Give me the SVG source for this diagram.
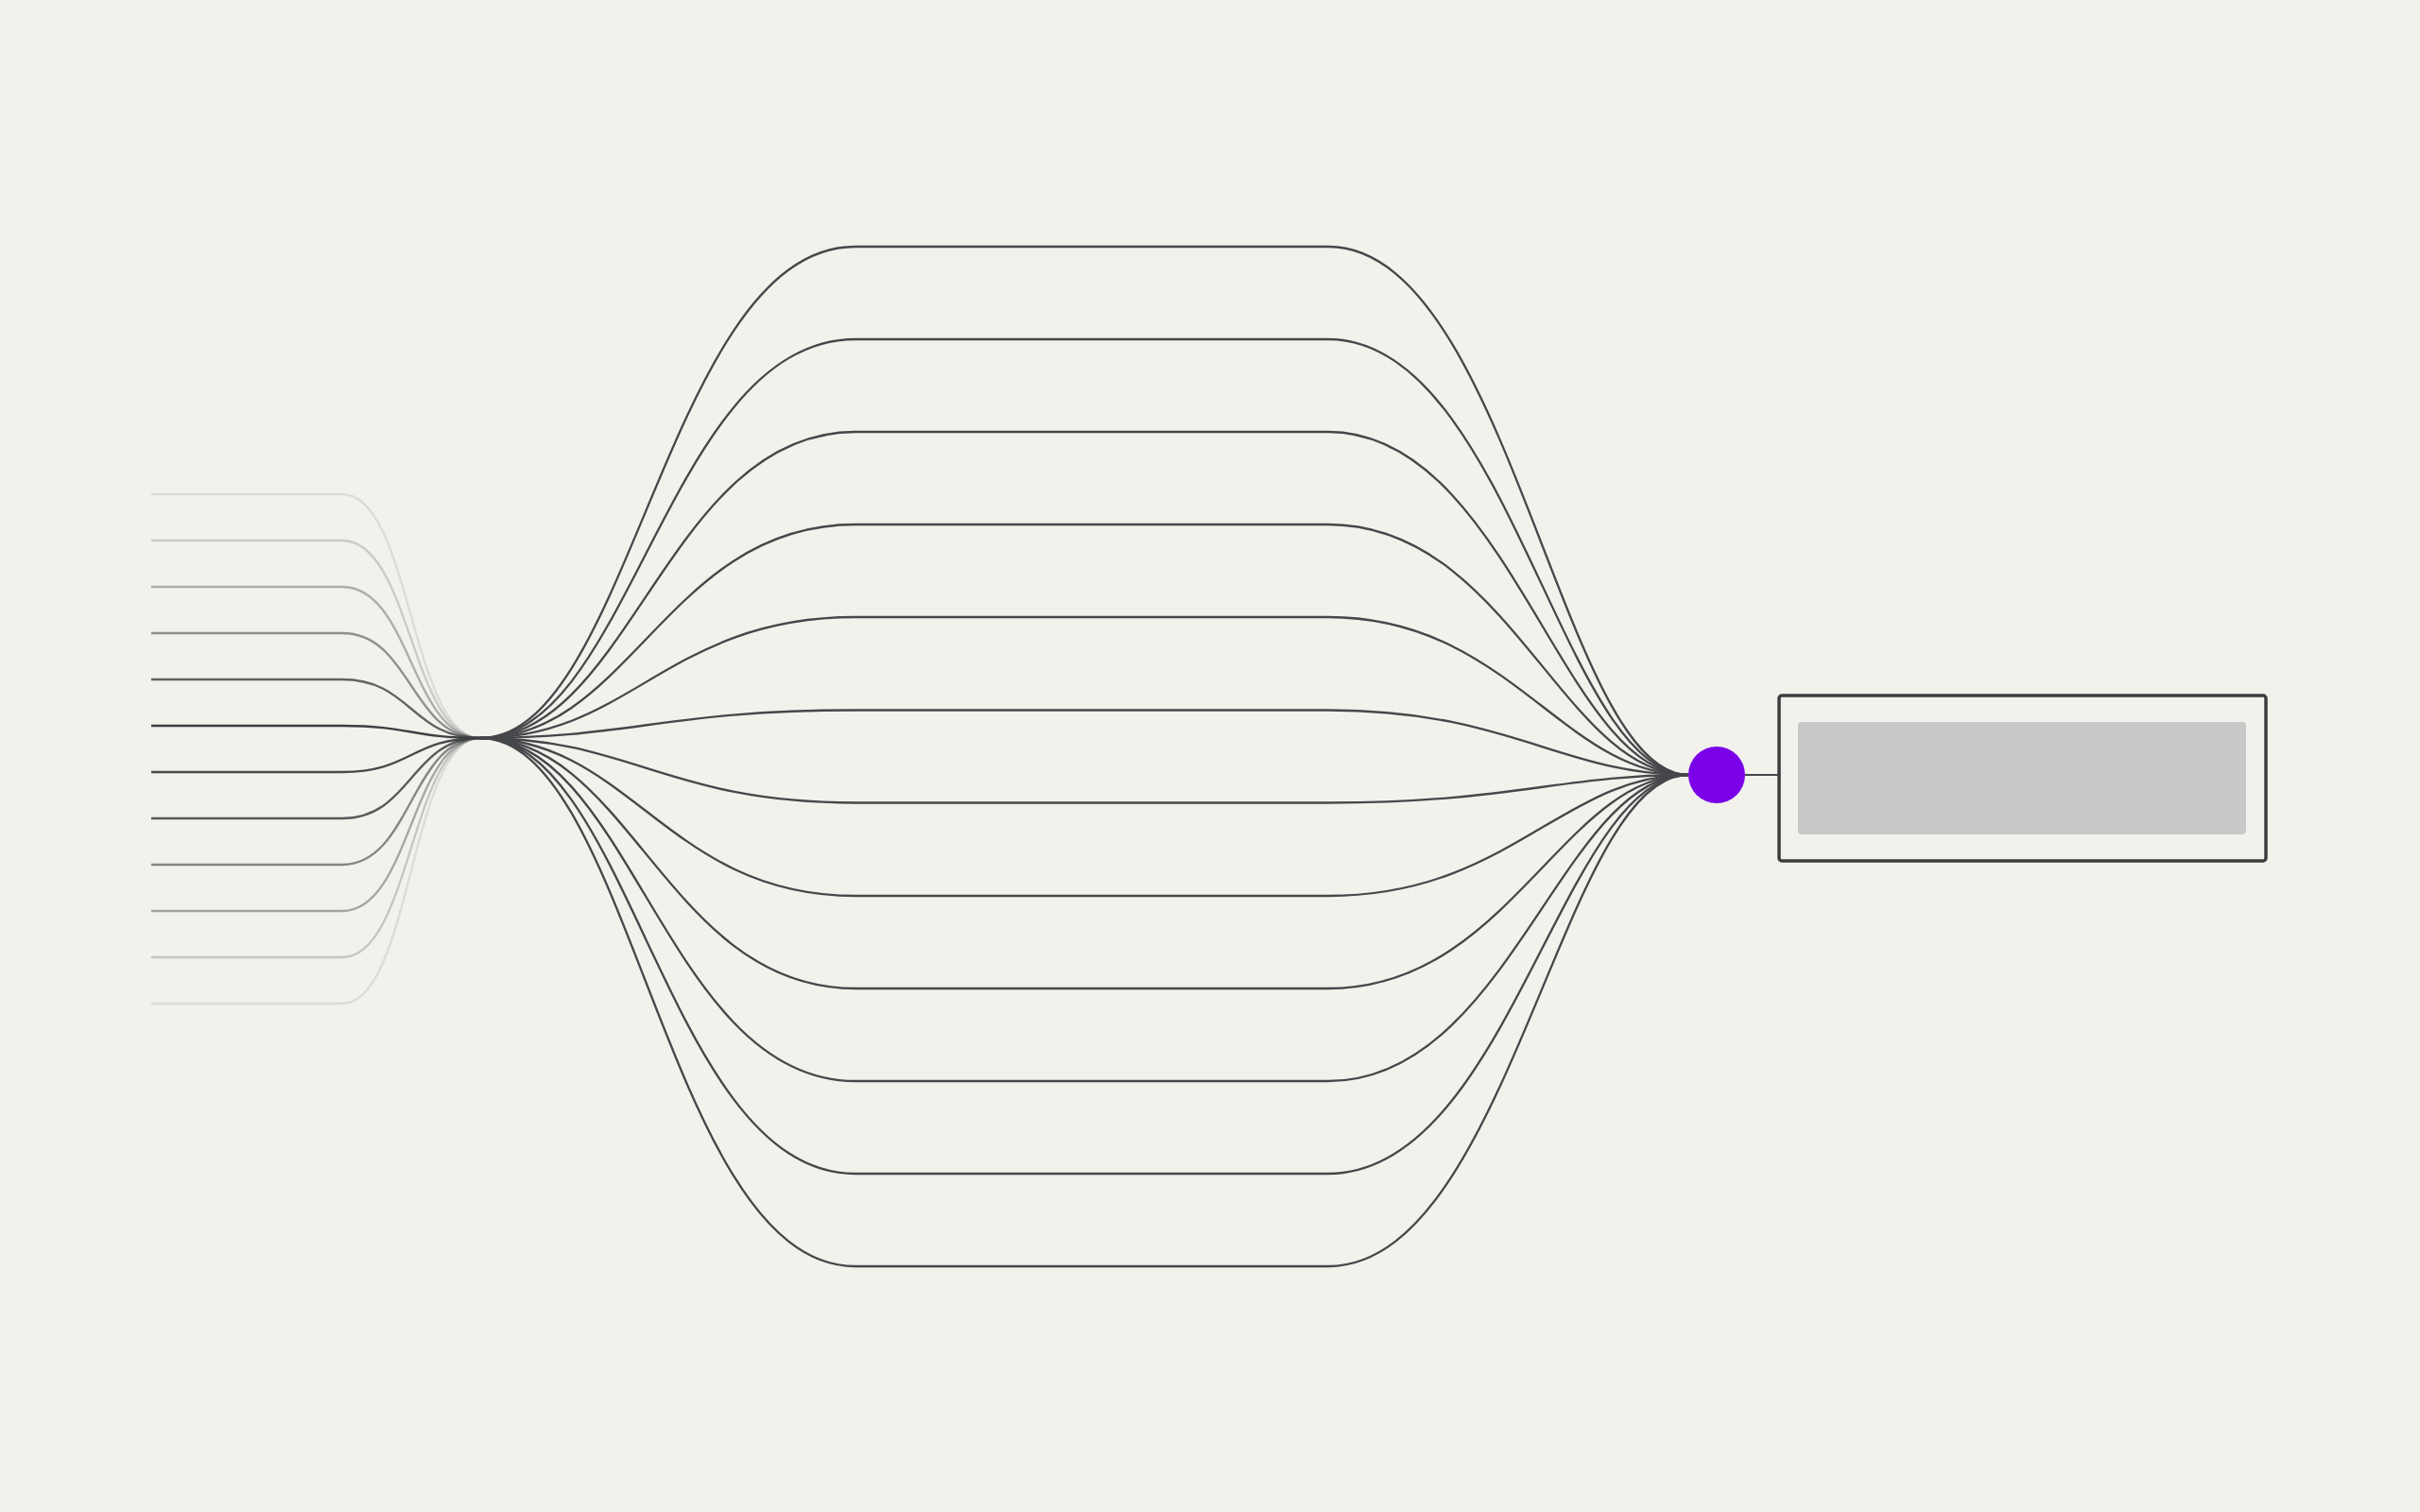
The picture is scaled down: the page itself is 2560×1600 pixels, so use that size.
<svg xmlns="http://www.w3.org/2000/svg" width="2560" height="1600" viewBox="0 0 2560 1600">
<defs>
<style>
.bg{fill:#F2F1EC}
.in{fill:none;stroke:#3c3f41;stroke-width:2.3}
.mid{fill:none;stroke:#45474a;stroke-width:2.3}
.link{fill:none;stroke:#45474a;stroke-width:2.2}
.dot{fill:#7B02E8}
.box{fill:#F2F1EC;stroke:#3b3d3f;stroke-width:3.5}
.slot{fill:#C8C8C8}
</style>
</defs>
<rect class="bg" x="0" y="0" width="2560" height="1600"/>
<g id="connectors">
<g id="inputs">
<path class="in" stroke-opacity="0.12" d="M160 523 H362 C435 523 435 781 508 781"/>
<path class="in" stroke-opacity="0.22" d="M160 572 H362 C435 572 435 781 508 781"/>
<path class="in" stroke-opacity="0.38" d="M160 621 H362 C435 621 435 781 508 781"/>
<path class="in" stroke-opacity="0.55" d="M160 670 H362 C435 670 435 781 508 781"/>
<path class="in" stroke-opacity="0.8" d="M160 719 H362 C435 719 435 781 508 781"/>
<path class="in" stroke-opacity="1" d="M160 768 H362 C435 768 435 781 508 781"/>
<path class="in" stroke-opacity="0.95" d="M160 817 H362 C435 817 435 781 508 781"/>
<path class="in" stroke-opacity="0.85" d="M160 866 H362 C435 866 435 781 508 781"/>
<path class="in" stroke-opacity="0.6" d="M160 915 H362 C435 915 435 781 508 781"/>
<path class="in" stroke-opacity="0.42" d="M160 964 H362 C435 964 435 781 508 781"/>
<path class="in" stroke-opacity="0.25" d="M160 1013 H362 C435 1013 435 781 508 781"/>
<path class="in" stroke-opacity="0.12" d="M160 1062 H362 C435 1062 435 781 508 781"/>
</g>
<g id="paths">
<path class="mid" d="M508 781 C667 781 706 261 905 261 H1405 C1596 261 1653 820 1786 820"/>
<path class="mid" d="M508 781 C667 781 706 359 905 359 H1405 C1596 359 1653 820 1786 820"/>
<path class="mid" d="M508 781 C667 781 706 457 905 457 H1405 C1596 457 1653 820 1786 820"/>
<path class="mid" d="M508 781 C667 781 706 555 905 555 H1405 C1596 555 1653 820 1786 820"/>
<path class="mid" d="M508 781 C667 781 706 653 905 653 H1405 C1596 653 1653 820 1786 820"/>
<path class="mid" d="M508 781 C667 781 706 751.5 905 751.5 H1405 C1596 751.5 1653 820 1786 820"/>
<path class="mid" d="M508 781 C667 781 706 849.5 905 849.5 H1405 C1596 849.5 1653 820 1786 820"/>
<path class="mid" d="M508 781 C667 781 706 948 905 948 H1405 C1596 948 1653 820 1786 820"/>
<path class="mid" d="M508 781 C667 781 706 1046 905 1046 H1405 C1596 1046 1653 820 1786 820"/>
<path class="mid" d="M508 781 C667 781 706 1144 905 1144 H1405 C1596 1144 1653 820 1786 820"/>
<path class="mid" d="M508 781 C667 781 706 1242 905 1242 H1405 C1596 1242 1653 820 1786 820"/>
<path class="mid" d="M508 781 C667 781 706 1340 905 1340 H1405 C1596 1340 1653 820 1786 820"/>
</g>
<line class="link" x1="1846" y1="820" x2="1882" y2="820"/>
</g>
<g id="merge-node">
<circle class="dot" cx="1816" cy="820" r="30"/>
</g>
<g id="output-node">
<rect class="box" x="1882" y="736" width="515" height="175" rx="3"/>
<rect class="slot" x="1902" y="764" width="474" height="119" rx="4"/>
</g>
</svg>
